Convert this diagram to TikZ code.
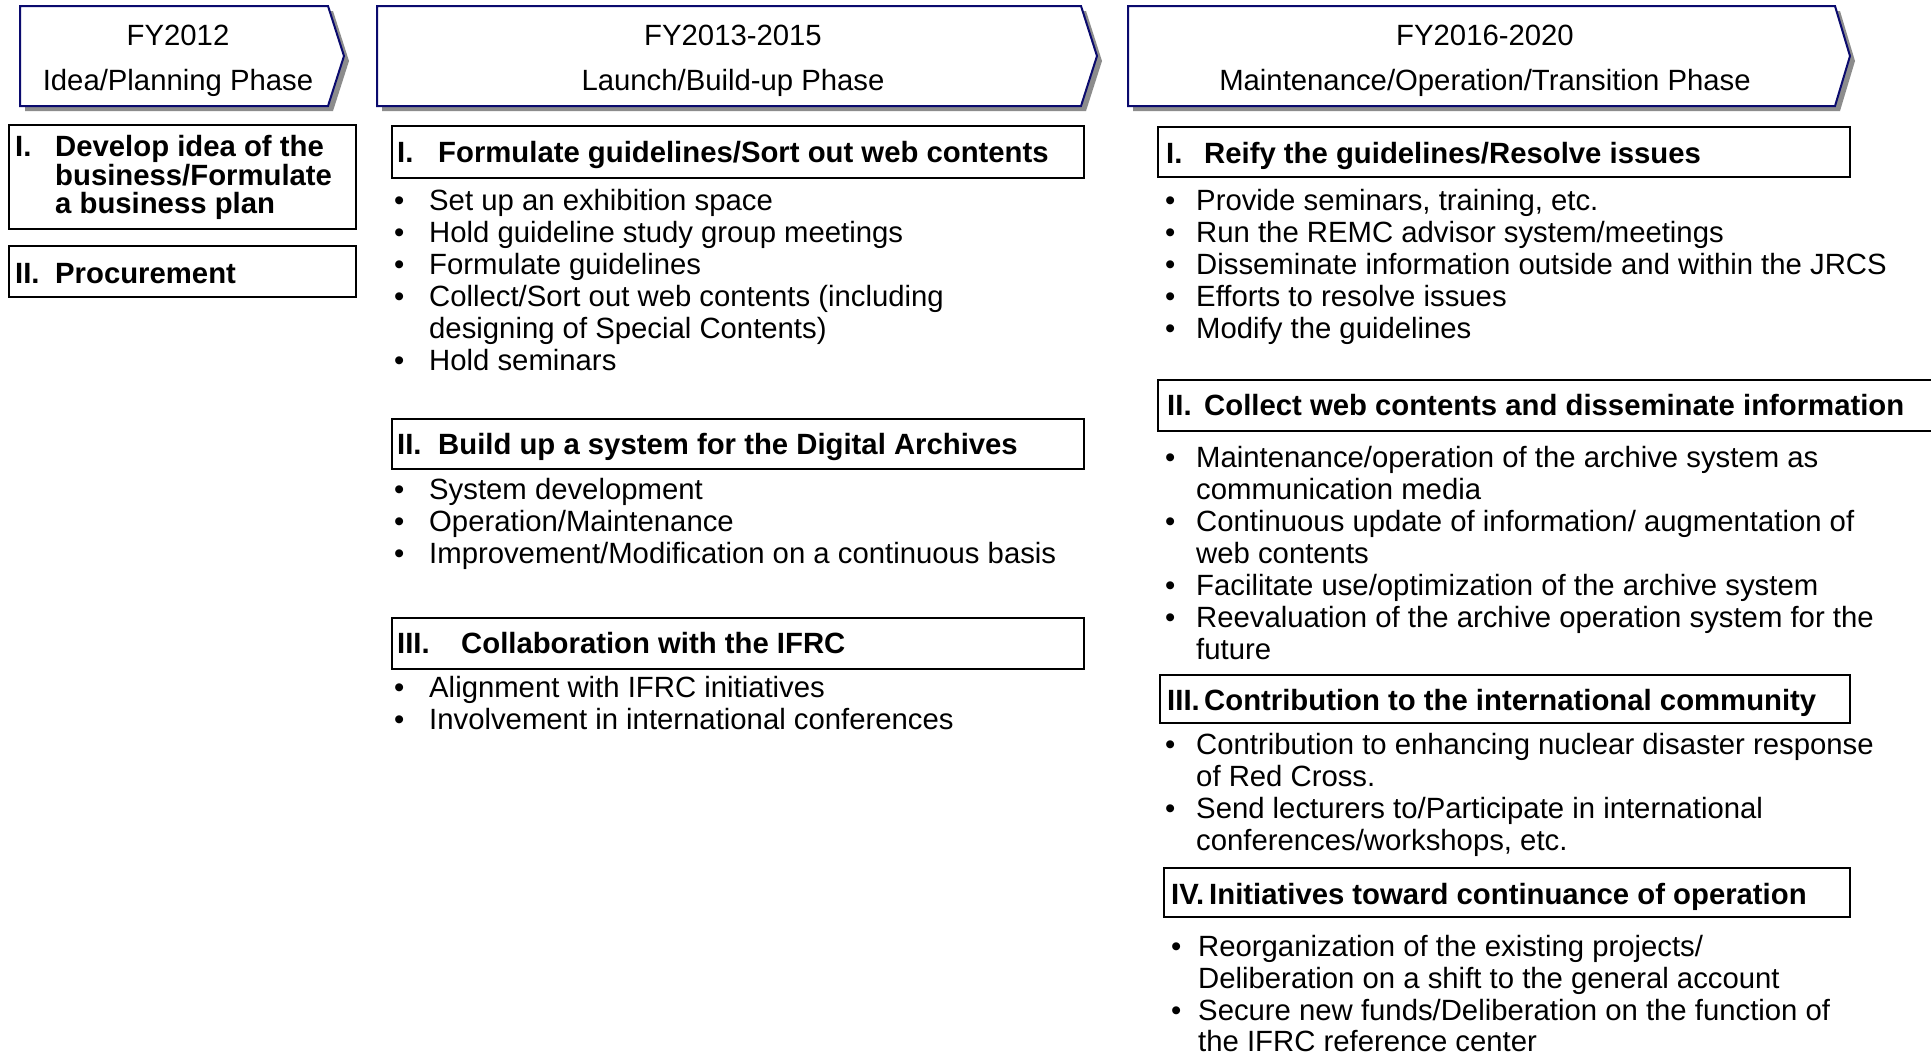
\documentclass[tikz,border=0pt]{standalone}
\usepackage{fontspec}
\setmainfont{Liberation Sans}
\definecolor{navy}{RGB}{10,10,110}
\definecolor{shadowgray}{RGB}{140,140,140}
\tikzset{
  txt/.style={inner sep=0pt, anchor=west, font=\fontsize{29.3}{32}\selectfont, text height=21pt, text depth=0pt},
  ctxt/.style={txt, anchor=center},
  btxt/.style={txt, font=\fontsize{29.3}{30}\selectfont\bfseries},
  hbox/.style={draw=black, line width=1.6pt},
  phase/.style={draw=navy, line width=2pt, fill=white},
  phshadow/.style={fill=shadowgray, draw=none}
}
\newcommand\bitem[5]{%
  \node[txt] (#1-b) at (#2,#4) {\textbullet};
  \node[txt] (#1) at (#3,#4) {#5};}
\newcommand\contline[4]{\node[txt] (#1) at (#2,#3) {#4};}
\newcommand\phasebox[3]{% x1 x2 tip
  \fill[phshadow] (#1+5,11) -- (#2+5,11) -- (#3+5,61) -- (#2+5,111) -- (#1+5,111) -- cycle;
  \draw[phase] (#1,6) -- (#2,6) -- (#3,56) -- (#2,106) -- (#1,106) -- cycle;}
\begin{document}
\begin{tikzpicture}[x=1pt,y=-1pt]
\useasboundingbox (0,0) rectangle (1931,1053);
\clip (0,0) rectangle (1931,1053);
\fill[white] (0,0) rectangle (1931,1053);

% ---------- phase headers ----------
\phasebox{20}{328}{344}
\phasebox{377}{1081}{1097}
\phasebox{1128}{1835}{1850}
\node[ctxt] (h1a) at (178,35) {FY2012};
\node[ctxt] (h1b) at (178,80) {Idea/Planning Phase};
\node[ctxt] (h2a) at (733,35) {FY2013-2015};
\node[ctxt] (h2b) at (733,80) {Launch/Build-up Phase};
\node[ctxt] (h3a) at (1485,35) {FY2016-2020};
\node[ctxt] (h3b) at (1485,80) {Maintenance/Operation/Transition Phase};

% ---------- column 1 ----------
\draw[hbox] (9,125) rectangle (356,229);
\node[btxt] (c1i) at (15,146) {I.};
\node[btxt] (c1t1) at (55,146) {Develop idea of the};
\node[btxt] (c1t2) at (55,174.5) {business/Formulate};
\node[btxt] (c1t3) at (55,203) {a business plan};
\draw[hbox] (9,246) rectangle (356,297);
\node[btxt] (c1ii) at (15,273) {II.};
\node[btxt] (c1p) at (55,273) {Procurement};

% ---------- column 2 ----------
\draw[hbox] (392,126) rectangle (1084,178);
\node[btxt] (c2i) at (397,152) {I.};
\node[btxt] (c2it) at (438,152) {Formulate guidelines/Sort out web contents};
\bitem{c2a}{394}{429}{199.5}{Set up an exhibition space}
\bitem{c2b}{394}{429}{231.5}{Hold guideline study group meetings}
\bitem{c2c}{394}{429}{263.5}{Formulate guidelines}
\bitem{c2d}{394}{429}{295.5}{Collect/Sort out web contents (including}
\contline{c2d2}{429}{327.5}{designing of Special Contents)}
\bitem{c2e}{394}{429}{359.5}{Hold seminars}

\draw[hbox] (392,419) rectangle (1084,469);
\node[btxt] (c2ii) at (397,444) {II.};
\node[btxt] (c2iit) at (438,444) {Build up a system for the Digital Archives};
\bitem{c2f}{394}{429}{489}{System development}
\bitem{c2g}{394}{429}{521}{Operation/Maintenance}
\bitem{c2h}{394}{429}{553}{Improvement/Modification on a continuous basis}

\draw[hbox] (392,618) rectangle (1084,669);
\node[btxt] (c2iii) at (397,643) {III.};
\node[btxt] (c2iiit) at (461,643) {Collaboration with the IFRC};
\bitem{c2j}{394}{429}{687}{Alignment with IFRC initiatives}
\bitem{c2k}{394}{429}{719}{Involvement in international conferences}

% ---------- column 3 ----------
\draw[hbox] (1158,127) rectangle (1850,177);
\node[btxt] (c3i) at (1166,153) {I.};
\node[btxt] (c3it) at (1204,153) {Reify the guidelines/Resolve issues};
\bitem{c3a}{1165}{1196}{199.5}{Provide seminars, training, etc.}
\bitem{c3b}{1165}{1196}{231.5}{Run the REMC advisor system/meetings}
\bitem{c3c}{1165}{1196}{263.5}{Disseminate information outside and within the JRCS}
\bitem{c3d}{1165}{1196}{295.5}{Efforts to resolve issues}
\bitem{c3e}{1165}{1196}{327.5}{Modify the guidelines}

\draw[hbox] (1158,380) rectangle (1945,431);
\node[btxt] (c3ii) at (1167,405) {II.};
\node[btxt] (c3iit) at (1204,405) {Collect web contents and disseminate information};
\bitem{c3f}{1165}{1196}{457}{Maintenance/operation of the archive system as}
\contline{c3f2}{1196}{489}{communication media}
\bitem{c3g}{1165}{1196}{521}{Continuous update of information/ augmentation of}
\contline{c3g2}{1196}{553}{web contents}
\bitem{c3h}{1165}{1196}{585}{Facilitate use/optimization of the archive system}
\bitem{c3j}{1165}{1196}{617}{Reevaluation of the archive operation system for the}
\contline{c3j2}{1196}{649}{future}

\draw[hbox] (1160,675) rectangle (1850,723);
\node[btxt] (c3iii) at (1167,699.5) {III.};
\node[btxt] (c3iiit) at (1204,699.5) {Contribution to the international community};
\bitem{c3k}{1165}{1196}{744}{Contribution to enhancing nuclear disaster response}
\contline{c3k2}{1196}{776}{of Red Cross.}
\bitem{c3l}{1165}{1196}{808}{Send lecturers to/Participate in international}
\contline{c3l2}{1196}{840}{conferences/workshops, etc.}

\draw[hbox] (1164,868) rectangle (1850,917);
\node[btxt] (c3iv) at (1171,894) {IV.};
\node[btxt] (c3ivt) at (1209,894) {Initiatives toward continuance of operation};
\bitem{c3m}{1171}{1198}{946}{Reorganization of the existing projects/}
\contline{c3m2}{1198}{978}{Deliberation on a shift to the general account}
\bitem{c3n}{1171}{1198}{1010}{Secure new funds/Deliberation on the function of}
\contline{c3n2}{1198}{1040.5}{the IFRC reference center}
\end{tikzpicture}
\end{document}
